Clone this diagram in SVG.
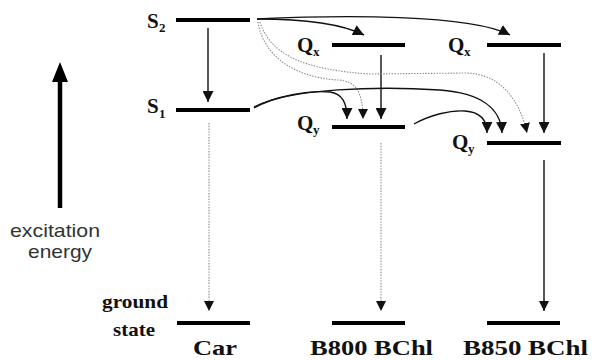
<svg xmlns="http://www.w3.org/2000/svg" width="592" height="360" viewBox="0 0 592 360">
<style>
.lvl{stroke:#000;stroke-width:4;fill:none}
.sol{stroke:#111;stroke-width:1.4;fill:none}
.dot{stroke:#888;stroke-width:1.1;fill:none;stroke-dasharray:1.4 1.4}
.b{font-family:"Liberation Serif","Times New Roman",serif;font-weight:bold;fill:#111}
.s{font-family:"Liberation Sans",Arial,sans-serif;fill:#333}
</style>
<defs>
<marker id="ah" markerUnits="userSpaceOnUse" markerWidth="11" markerHeight="11" refX="10" refY="5" orient="auto" viewBox="0 0 10 10">
<path d="M0,0 L10,5 L0,10 z" fill="#111"/>
</marker>
<marker id="ahs" markerUnits="userSpaceOnUse" markerWidth="10" markerHeight="10" refX="10" refY="5" orient="auto" viewBox="0 0 10 10">
<path d="M0,0 L10,5 L0,10 z" fill="#111"/>
</marker>
</defs>

<g id="axis">
<line x1="60" y1="208" x2="60" y2="80" stroke="#000" stroke-width="4.5"/>
<polygon points="52,82 68,82 60,62" fill="#000"/>
<text class="s" x="55" y="237" font-size="19" text-anchor="middle" textLength="90" lengthAdjust="spacingAndGlyphs">excitation</text>
<text class="s" x="60" y="258" font-size="19" text-anchor="middle" textLength="64" lengthAdjust="spacingAndGlyphs">energy</text>
</g>

<g id="car-S2">
<line class="lvl" x1="176" y1="20" x2="250" y2="20"/>
<text class="b" x="147" y="28" font-size="21">S</text>
<text class="b" x="159" y="32" font-size="13">2</text>
</g>
<g id="car-S1">
<line class="lvl" x1="176" y1="110" x2="250" y2="110"/>
<text class="b" x="147" y="113" font-size="21">S</text>
<text class="b" x="159" y="118" font-size="13">1</text>
</g>
<g id="car-ground">
<line class="lvl" x1="177" y1="323" x2="250" y2="323"/>
<text class="b" x="102" y="308" font-size="19" textLength="66" lengthAdjust="spacingAndGlyphs">ground</text>
<text class="b" x="113" y="336" font-size="19" textLength="42" lengthAdjust="spacingAndGlyphs">state</text>
<text class="b" x="193" y="355" font-size="22" textLength="44" lengthAdjust="spacingAndGlyphs">Car</text>
</g>

<g id="b800-Qx">
<line class="lvl" x1="332" y1="45" x2="405" y2="45"/>
<text class="b" x="297" y="52" font-size="21">Q</text>
<text class="b" x="313" y="56" font-size="13">x</text>
</g>
<g id="b800-Qy">
<line class="lvl" x1="332" y1="127" x2="405" y2="127"/>
<text class="b" x="297" y="130" font-size="21">Q</text>
<text class="b" x="313" y="134" font-size="13">y</text>
</g>
<g id="b800-ground">
<line class="lvl" x1="332" y1="323" x2="405" y2="323"/>
<text class="b" x="310" y="355" font-size="22" textLength="123" lengthAdjust="spacingAndGlyphs">B800 BChl</text>
</g>

<g id="b850-Qx">
<line class="lvl" x1="487" y1="45" x2="561" y2="45"/>
<text class="b" x="448" y="52" font-size="21">Q</text>
<text class="b" x="464" y="56" font-size="13">x</text>
</g>
<g id="b850-Qy">
<line class="lvl" x1="487" y1="143" x2="561" y2="143"/>
<text class="b" x="452" y="149" font-size="21">Q</text>
<text class="b" x="468" y="153" font-size="13">y</text>
</g>
<g id="b850-ground">
<line class="lvl" x1="487" y1="323" x2="560" y2="323"/>
<text class="b" x="463" y="355" font-size="22" textLength="125" lengthAdjust="spacingAndGlyphs">B850 BChl</text>
</g>

<g id="connectors">
<path class="sol" d="M208,28 V102" marker-end="url(#ah)"/>
<path class="dot" d="M209,123 V311" marker-end="url(#ahs)"/>
<path class="sol" d="M381,55 V119" marker-end="url(#ah)"/>
<path class="dot" d="M381,143 V311" marker-end="url(#ahs)"/>
<path class="sol" d="M544,53 V133" marker-end="url(#ah)"/>
<path class="sol" d="M544,160 V311" marker-end="url(#ahs)"/>

<path class="sol" d="M257,19 C300,19 340,23 364,35" marker-end="url(#ah)"/>
<path class="sol" d="M257,19 C340,15 470,14 510,35" marker-end="url(#ah)"/>

<path class="dot" d="M258,22 C264,60 300,78 338,80 C356,81 363,92 363,119" marker-end="url(#ahs)"/>
<path class="dot" d="M260,22 C270,55 305,70 370,74 L465,73 C500,73 520,100 527,133" marker-end="url(#ahs)"/>

<path class="sol" d="M254,108 C275,96 310,90 330,92 C342,94 347,102 347,119" marker-end="url(#ah)"/>
<path class="sol" d="M254,107 C290,88 380,86 440,90 C480,93 501,108 502,133" marker-end="url(#ah)"/>
<path class="sol" d="M414,124 C430,115 450,110 465,111 C480,112 487,120 487,133" marker-end="url(#ah)"/>
</g>
</svg>
